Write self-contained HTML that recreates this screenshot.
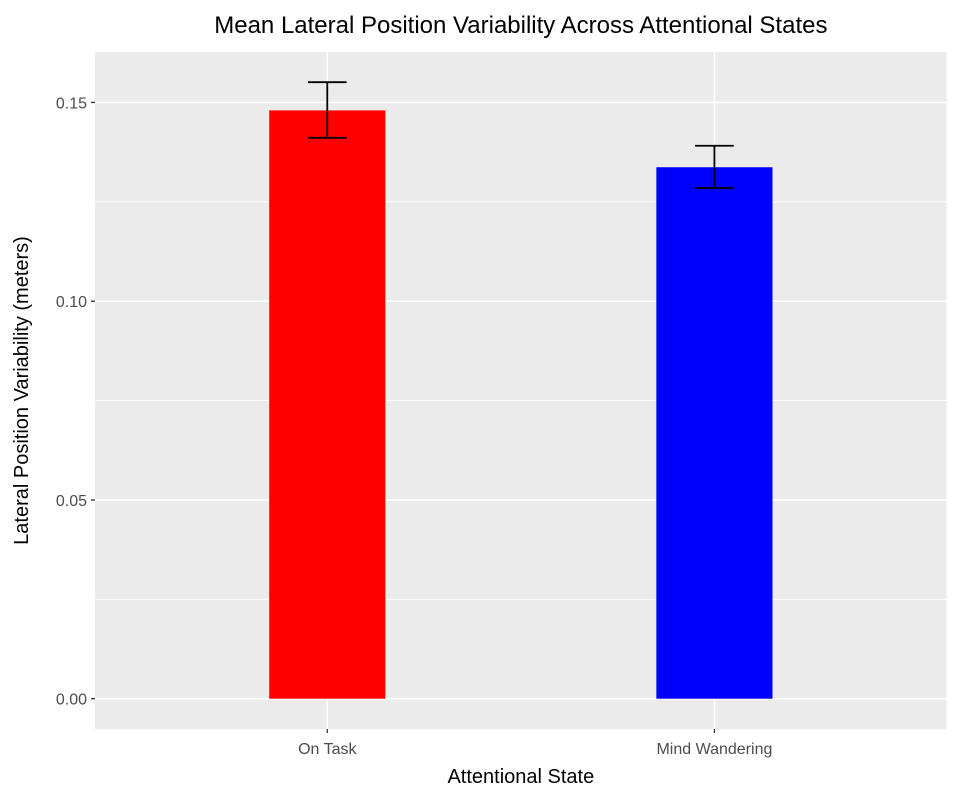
<!DOCTYPE html>
<html><head><meta charset="utf-8"><style>
body{margin:0;background:#fff;}
svg text{font-family:"Liberation Sans",Arial,sans-serif;}
</style></head><body>
<svg id="chart" width="957" height="799" xmlns="http://www.w3.org/2000/svg"></svg>
<script>
const categories = ["On Task", "Mind Wandering"];
const means = [0.148, 0.1337];
const errLow = [0.1411, 0.1285];
const errHigh = [0.1551, 0.1391];
const colors = ["#ff0000", "#0000ff"];
const yTicks = [0, 0.05, 0.10, 0.15];
const yTickLabels = ["0.00", "0.05", "0.10", "0.15"];

const NS = "http://www.w3.org/2000/svg";
const svg = document.getElementById('chart');
const L = 95, R = 946.7, T = 52, B = 729;
const y0 = 698.7, pxPerUnit = 3975;
function y(v){ return y0 - v * pxPerUnit; }
const step = (R - L) / (categories.length - 1 + 1.2);
function x(i){ return L + step * (0.6 + i); }
function mk(tag, attrs, parent){
  const e = document.createElementNS(NS, tag);
  for (const k in attrs) e.setAttribute(k, attrs[k]);
  (parent || svg).appendChild(e);
  return e;
}
const panel = mk('rect', {x:L, y:T, width:R-L, height:B-T, fill:'#ebebeb'});


for (let i = 0; i < yTicks.length - 1; i++) {
  const v = (yTicks[i] + yTicks[i+1]) / 2;
  const g = mk('line', {x1:L, x2:R, y1:y(v), y2:y(v), stroke:'#fff', 'stroke-width':0.8});
  
  
}
yTicks.forEach((v, i) => {
  const g = mk('line', {x1:L, x2:R, y1:y(v), y2:y(v), stroke:'#fff', 'stroke-width':1.6});
  
  
  const t = mk('line', {x1:L-4, x2:L, y1:y(v), y2:y(v), stroke:'#333', 'stroke-width':1.3});
  
  
  const lb = mk('text', {x:L-8, y:y(v)+6, 'text-anchor':'end', 'font-size':16, fill:'#4d4d4d'});
  lb.textContent = yTickLabels[i];
  
  
});
categories.forEach((c, i) => {
  const cx = x(i);
  const g = mk('line', {x1:cx, x2:cx, y1:T, y2:B, stroke:'#fff', 'stroke-width':1.6});
  
  
});
categories.forEach((c, i) => {
  const cx = x(i), hw = step * 0.15;
  const b = mk('rect', {x:cx-hw, y:y(means[i]), width:2*hw, height:y(0)-y(means[i]), fill:colors[i]});
  
  
  const eg = mk('g', {stroke:'#000', 'stroke-width':1.8, fill:'none'});
  
  
  const ew = step * 0.05;
  mk('line', {x1:cx, x2:cx, y1:y(errHigh[i]), y2:y(errLow[i])}, eg);
  mk('line', {x1:cx-ew, x2:cx+ew, y1:y(errHigh[i]), y2:y(errHigh[i])}, eg);
  mk('line', {x1:cx-ew, x2:cx+ew, y1:y(errLow[i]), y2:y(errLow[i])}, eg);
  const t = mk('line', {x1:cx, x2:cx, y1:B, y2:B+4, stroke:'#333', 'stroke-width':1.3});
  
  
  const lb = mk('text', {x:cx, y:B+25, 'text-anchor':'middle', 'font-size':16, fill:'#4d4d4d'});
  lb.textContent = c;
  
  
});
const title = mk('text', {x:(L+R)/2, y:33, 'text-anchor':'middle', 'font-size':24, fill:'#000'});
title.textContent = 'Mean Lateral Position Variability Across Attentional States';


const xt = mk('text', {x:(L+R)/2, y:783, 'text-anchor':'middle', 'font-size':20, fill:'#000'});
xt.textContent = 'Attentional State';


const yt = mk('text', {x:0, y:0, 'text-anchor':'middle', 'font-size':20, fill:'#000', transform:`translate(28,${(T+B)/2}) rotate(-90)`});
yt.textContent = 'Lateral Position Variability (meters)';


</script>
</body></html>
